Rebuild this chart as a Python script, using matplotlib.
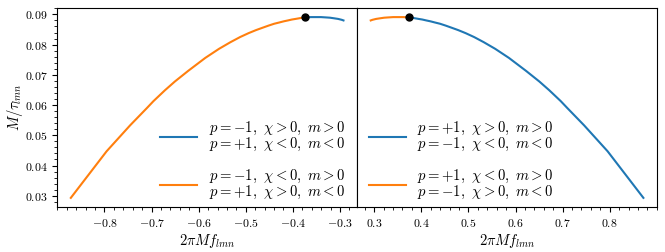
"""Kerr l=m=2 QNM: damping vs frequency"""

import matplotlib
matplotlib.use('Agg')
import matplotlib.pyplot as plt
from matplotlib.ticker import FuncFormatter

# prograde branch (blue on the right panel)
pro_freq = [0.3737, 0.3801, 0.3870, 0.3943, 0.4021, 0.4105, 0.4195,
            0.4294, 0.4398, 0.4515, 0.4641, 0.4783, 0.4940, 0.5121,
            0.5326, 0.5569, 0.5860, 0.6224, 0.6505, 0.6716, 0.6960,
            0.7100, 0.7455, 0.7955, 0.8714]
pro_damp = [0.0890, 0.0889, 0.0887, 0.0885, 0.0883, 0.0880, 0.0877,
            0.0873, 0.0869, 0.0863, 0.0856, 0.0848, 0.0838, 0.0825,
            0.0808, 0.0786, 0.0756, 0.0713, 0.0678, 0.0649, 0.0613,
            0.0590, 0.0533, 0.0447, 0.0293]

# retrograde branch (orange on the right panel)
retro_freq = [0.3737, 0.3620, 0.3509, 0.3404, 0.3305, 0.3212, 0.3124,
              0.3041, 0.2963, 0.2927]
retro_damp = [0.0890, 0.0891, 0.0891, 0.0891, 0.0890, 0.0889, 0.0887,
              0.0885, 0.0882, 0.0880]

left_labels = [r'$p=-1,\ \chi>0,\ m>0$' + '\n' + r'$p=+1,\ \chi<0,\ m<0$',
               r'$p=-1,\ \chi<0,\ m>0$' + '\n' + r'$p=+1,\ \chi>0,\ m<0$']
right_labels = [r'$p=+1,\ \chi>0,\ m>0$' + '\n' + r'$p=-1,\ \chi<0,\ m<0$',
                r'$p=+1,\ \chi<0,\ m>0$' + '\n' + r'$p=-1,\ \chi>0,\ m<0$']


def tex_fmt(v, pos):
    return '$%g$' % round(v, 3)


def main():
    """Main function"""
    plt.rcParams['mathtext.fontset'] = 'cm'
    plt.rcParams['font.family'] = 'serif'
    plt.rcParams['font.serif'] = ['DejaVu Serif']
    plt.rcParams['font.size'] = 8.5

    fig, (ax1, ax2) = plt.subplots(1, 2, sharey=True, figsize=(6.65, 2.52), dpi=100)
    fig.subplots_adjust(left=0.086, right=0.988, bottom=0.179, top=0.968, wspace=0)

    neg_pro = [-f for f in pro_freq]
    neg_retro = [-f for f in retro_freq]

    ax1.plot(neg_retro, retro_damp, color='C0', lw=1.5, label=left_labels[0])
    ax1.plot(neg_pro, pro_damp, color='C1', lw=1.5, label=left_labels[1])
    ax1.plot(neg_pro[0], pro_damp[0], 'o', color='k', ms=5, zorder=5)

    ax2.plot(pro_freq, pro_damp, color='C0', lw=1.5, label=right_labels[0])
    ax2.plot(retro_freq, retro_damp, color='C1', lw=1.5, label=right_labels[1])
    ax2.plot(pro_freq[0], pro_damp[0], 'o', color='k', ms=5, zorder=5)

    for ax in (ax1, ax2):
        ax.minorticks_on()
        ax.set_xlabel(r'$2\pi M f_{lmn}$', fontsize=10.5, labelpad=2)
        ax.xaxis.set_major_formatter(FuncFormatter(tex_fmt))
    ax1.yaxis.set_major_formatter(FuncFormatter(tex_fmt))
    ax1.set_ylabel(r'$M/\tau_{lmn}$', fontsize=10.5)
    ax1.yaxis.set_label_coords(-0.108, 0.5)
    ax1.set_yticks([0.03, 0.04, 0.05, 0.06, 0.07, 0.08, 0.09])
    ax1.set_xticks([-0.8, -0.7, -0.6, -0.5, -0.4, -0.3])
    ax2.set_xticks([0.3, 0.4, 0.5, 0.6, 0.7, 0.8])
    ax2.tick_params(axis='y', which='both', left=False)

    for ax, loc, anchor in ((ax1, 'lower right', (1.0, -0.03)),
                            (ax2, 'lower left', (0.0, -0.03))):
        leg = ax.legend(loc=loc, bbox_to_anchor=anchor, frameon=False,
                        handlelength=2.5, handletextpad=0.8,
                        labelspacing=0.95, fontsize=10.6, borderaxespad=0.4)
        for t in leg.get_texts():
            t.set_linespacing(0.95)

    plt.savefig('out.png')


if __name__ == "__main__":
    main()
